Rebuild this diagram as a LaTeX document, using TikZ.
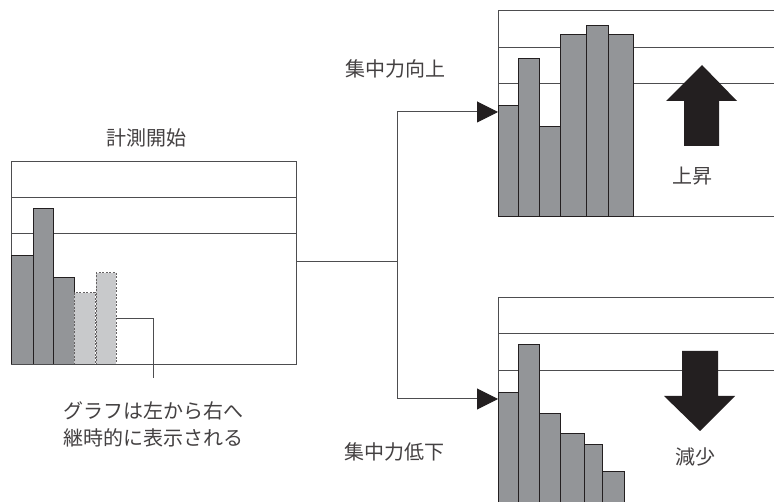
\documentclass[tikz,border=0pt]{standalone}
\usepackage{fontspec}
\newfontfamily\jp{Noto Sans CJK JP}
\usetikzlibrary{arrows.meta}
\definecolor{ink}{HTML}{231F20}
\definecolor{boxline}{HTML}{4D4D4F}
\definecolor{bardark}{HTML}{939598}
\definecolor{barlight}{HTML}{C8C9CB}
\tikzset{
  frame/.style={draw=boxline, line width=1pt},
  gridline/.style={draw=boxline, line width=1pt},
  bar/.style={draw=ink, fill=bardark, line width=1pt},
  barnew/.style={draw=ink!70, fill=barlight, line width=1pt, dash pattern=on 2pt off 1.5pt},
  conn/.style={draw=boxline, line width=1pt},
  bigarrow/.style={fill=ink, draw=none},
  lbl/.style={font=\jp\fontsize{20}{27}\selectfont, text=ink!85, inner sep=0pt},
  head/.style={-{Triangle[length=21pt,width=21pt,color=ink,fill=ink]}},
}
\begin{document}
\begin{tikzpicture}[x=1pt,y=-1pt]
\clip (0,0) rectangle (774,502);
\fill[white] (0,0) rectangle (774,502);
% ---------- left box ----------
\draw[frame] (11,162) rectangle (296,365);
\draw[gridline] (11,198) -- (296,198);
\draw[gridline] (11,234) -- (296,234);
\draw[bar] (11,365) rectangle (33,256);
\draw[bar] (33,365) rectangle (53,209);
\draw[bar] (53,365) rectangle (74,278);
\draw[barnew] (74,365) rectangle (95,293);
\draw[barnew] (96,365) rectangle (116,273);
\draw[frame] (11,365) -- (296,365);
\coordinate (callA) at (116,319);
\coordinate (callB) at (153,378);
\draw[conn] (callA) -| (callB);
% ---------- top right box ----------
\draw[frame] (780,11) -- (498,11) -- (498,217) -- (780,217);
\draw[gridline] (498,48) -- (780,48);
\draw[gridline] (498,84) -- (780,84);
\draw[bar] (498,217) rectangle (518,106);
\draw[bar] (518,217) rectangle (539,59);
\draw[bar] (539,217) rectangle (560,127);
\draw[bar] (560,217) rectangle (586,35);
\draw[bar] (586,217) rectangle (608,26);
\draw[bar] (608,217) rectangle (633,35);
\fill[bigarrow] (684,146) -- (684,101) -- (666,101) -- (702,65) -- (737,101) -- (719,101) -- (719,146) -- cycle;
% ---------- bottom right box ----------
\draw[frame] (780,298) -- (498,298) -- (498,510);
\draw[gridline] (498,334) -- (780,334);
\draw[gridline] (498,371) -- (780,371);
\draw[bar] (498,510) rectangle (518,393);
\draw[bar] (518,510) rectangle (539,345);
\draw[bar] (539,510) rectangle (560,414);
\draw[bar] (560,510) rectangle (584,434);
\draw[bar] (584,510) rectangle (602,445);
\draw[bar] (602,510) rectangle (624,471);
\fill[bigarrow] (682,351) -- (718,351) -- (718,396) -- (735,396) -- (700,431) -- (664,396) -- (682,396) -- cycle;
% ---------- connectors ----------
\coordinate (src) at (296,262);
\coordinate (fork) at (397,262);
\coordinate (upIn) at (498,112);
\coordinate (downIn) at (498,399);
\draw[conn] (src) -- (fork);
\draw[conn, head] (fork) |- (upIn);
\draw[conn, head] (fork) |- (downIn);
% ---------- labels ----------
\node[lbl] (tStart) at (146,138) {計測開始};
\node[lbl] (tUp) at (395,69) {集中力向上};
\node[lbl] (tDown) at (394,452) {集中力低下};
\node[lbl] (tRise) at (692,176) {上昇};
\node[lbl] (tFall) at (695,457) {減少};
\node[lbl, align=center] (tNote) at (153,424) {グラフは左から右へ\\継時的に表示される};
\end{tikzpicture}
\end{document}
